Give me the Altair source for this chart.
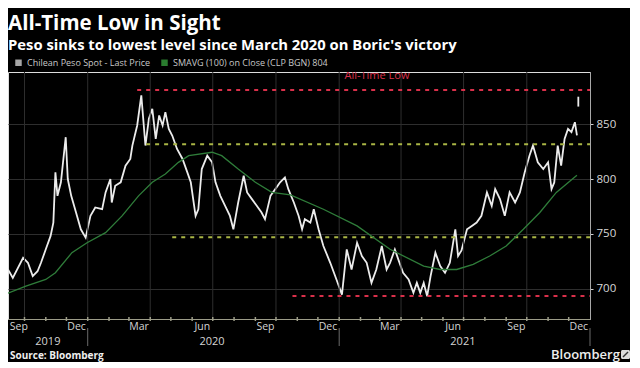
import altair as alt
import pandas as pd

# ---------------- data ----------------
price_dates = [
    "2019-09-07", "2019-09-14", "2019-09-29", "2019-10-06", "2019-10-13", "2019-10-20", "2019-10-25",
    "2019-11-01", "2019-11-08", "2019-11-12", "2019-11-15", "2019-11-18", "2019-11-23", "2019-11-30",
    "2019-12-03", "2019-12-08", "2019-12-15", "2019-12-22", "2019-12-29", "2020-01-05", "2020-01-12",
    "2020-01-22", "2020-01-27", "2020-02-03", "2020-02-05", "2020-02-10", "2020-02-18", "2020-02-25",
    "2020-03-03", "2020-03-06", "2020-03-13", "2020-03-19", "2020-03-25", "2020-03-30", "2020-04-04",
    "2020-04-09", "2020-04-14", "2020-04-19", "2020-04-23", "2020-04-28", "2020-05-03", "2020-05-10",
    "2020-05-18", "2020-05-25", "2020-05-30", "2020-06-06", "2020-06-10", "2020-06-15", "2020-06-23",
    "2020-06-30", "2020-07-05", "2020-07-12", "2020-07-19", "2020-07-26", "2020-07-31", "2020-08-07",
    "2020-08-15", "2020-08-20", "2020-08-27", "2020-09-03", "2020-09-10", "2020-09-15", "2020-09-23",
    "2020-09-30", "2020-10-07", "2020-10-14", "2020-10-19", "2020-10-27", "2020-11-03", "2020-11-08",
    "2020-11-12", "2020-11-20", "2020-11-25", "2020-12-02", "2020-12-09", "2020-12-19", "2020-12-28",
    "2021-01-05", "2021-01-12", "2021-01-19", "2021-01-27", "2021-02-03", "2021-02-10", "2021-02-17",
    "2021-02-24", "2021-03-04", "2021-03-11", "2021-03-16", "2021-03-23", "2021-03-28", "2021-04-04",
    "2021-04-12", "2021-04-19", "2021-04-24", "2021-04-29", "2021-05-04", "2021-05-09", "2021-05-14",
    "2021-05-21", "2021-05-28", "2021-06-04", "2021-06-11", "2021-06-19", "2021-06-23", "2021-06-28",
    "2021-07-06", "2021-07-13", "2021-07-20", "2021-07-27", "2021-08-04", "2021-08-11", "2021-08-16",
    "2021-08-23", "2021-08-30", "2021-09-06", "2021-09-14", "2021-09-21", "2021-09-28", "2021-10-05",
    "2021-10-10", "2021-10-17", "2021-10-25", "2021-11-01", "2021-11-06", "2021-11-10", "2021-11-15",
    "2021-11-20", "2021-11-25", "2021-11-30", "2021-12-05", "2021-12-10", "2021-12-13",
]
price_values = [
    717.6, 710.0, 728.3, 723.7, 711.6, 716.0, 723.7,
    736.0, 748.2, 760.3, 806.1, 784.7, 797.0, 838.1,
    800.0, 784.7, 769.5, 754.2, 746.6, 766.4, 774.1,
    772.5, 787.8, 800.0, 778.6, 793.9, 797.0, 812.2,
    818.3, 830.5, 848.8, 876.2, 830.5, 854.9, 864.0,
    836.6, 857.9, 848.8, 861.0, 845.7, 839.6, 827.4,
    818.3, 806.1, 797.0, 766.4, 772.5, 809.1, 821.3,
    815.2, 797.0, 784.7, 775.6, 766.4, 754.2, 778.6,
    803.0, 787.8, 781.7, 775.6, 769.5, 763.4, 784.7,
    790.8, 797.0, 801.5, 790.8, 778.6, 766.4, 754.2,
    763.4, 760.3, 772.5, 754.2, 739.0, 723.7, 708.5,
    694.7, 735.9, 717.6, 742.0, 729.9, 723.7, 705.4,
    717.6, 739.0, 717.6, 723.7, 735.9, 726.8, 714.6,
    708.5, 696.3, 705.4, 696.3, 705.4, 693.3, 711.6,
    732.9, 720.7, 714.6, 723.7, 754.2, 729.9, 735.0,
    754.2, 757.3, 760.3, 766.5, 787.8, 775.6, 790.8,
    781.7, 766.5, 787.8, 778.6, 787.8, 806.1, 821.4,
    830.5, 815.2, 809.1, 815.2, 790.8, 796.9, 830.5,
    812.2, 836.6, 845.7, 842.7, 851.8, 839.7,
]

sma_dates = [
    "2019-09-07", "2019-10-03", "2019-11-01", "2019-11-15", "2019-12-09", "2019-12-31", "2020-01-27",
    "2020-02-20", "2020-03-15", "2020-04-04", "2020-04-23", "2020-05-12", "2020-05-27", "2020-06-30",
    "2020-07-14", "2020-08-07", "2020-09-01", "2020-09-25", "2020-10-22", "2020-12-09", "2021-01-27",
    "2021-03-16", "2021-05-04", "2021-05-28", "2021-06-21", "2021-07-15", "2021-08-08", "2021-09-01",
    "2021-09-26", "2021-10-20", "2021-11-13", "2021-12-13",
]
sma_values = [
    696.0, 702.4, 708.5, 714.6, 732.9, 742.0, 751.2,
    766.4, 784.7, 797.0, 804.6, 815.2, 821.3, 824.4,
    821.3, 809.1, 797.0, 787.8, 785.5, 772.5, 757.3,
    736.0, 720.7, 717.6, 717.6, 722.2, 729.9, 739.0,
    754.2, 769.5, 787.8, 803.5,
]

last_date = ["2021-12-15"]
last_low = [866.0]
last_high = [875.0]

level_values = [881.0, 831.7, 747.0, 693.5]
level_starts = ["2020-03-13", "2020-03-26", "2020-05-03", "2020-10-25"]
level_kind = ["high", "band", "band", "low"]
level_end = "2022-01-01"

series_names = ["Chilean Peso Spot - Last Price", "SMAVG (100)  on Close (CLP BGN) 804"]

note_text = ["All-Time Low"]
note_date = ["2021-02-25"]
note_value = [894.3]

grid_dates = ["2019-10-01", "2020-01-01", "2020-04-01", "2020-07-01", "2020-10-01",
              "2021-01-01", "2021-04-01", "2021-07-01", "2021-10-01"]
year_sep_dates = ["2020-01-01", "2021-01-01", "2022-01-01"]
year_label_dates = ["2019-11-04", "2020-06-30", "2021-06-30"]
year_labels = ["2019", "2020", "2021"]
month_label_dates = ["2019-09-22", "2019-12-15", "2020-03-15", "2020-06-15", "2020-09-15",
                     "2020-12-15", "2021-03-15", "2021-06-15", "2021-09-15", "2021-12-15"]
month_tick_dates = [d.strftime("%Y-%m-%d") for d in pd.date_range("2019-10-01", "2021-12-01", freq="MS")]
y_ticks = [700, 750, 800, 850]

# ---------------- styling ----------------
BG = "#000000"
WHITE = "#ececec"
GREEN_LINE = "#2f7d3a"
GREEN_KEY = "#3cb043"
RED = "#d9304a"
OLIVE = "#a9b545"
GRID = "#2e2e2e"
AXIS = "#9c9c88"
FONT = "Open Sans"
W, H = 582, 247


def dt(s):
    y, m, d = (int(v) for v in s.split("-"))
    return alt.DateTime(year=y, month=m, date=d, utc=True)


xscale = alt.Scale(domain=[dt("2019-09-07"), dt("2022-01-01")], nice=False)
yscale = alt.Scale(domain=[672.5, 897.5], nice=False, zero=False)


def X(field, **kw):
    return alt.X(field, type="temporal", scale=xscale, title=None, **kw)


def Y(field, **kw):
    return alt.Y(field, type="quantitative", scale=yscale, title=None, **kw)


price_df = pd.DataFrame({"date": price_dates, "value": price_values})
sma_df = pd.DataFrame({"date": sma_dates, "value": sma_values})
last_df = pd.DataFrame({"date": last_date, "low": last_low, "high": last_high})
level_df = pd.DataFrame({"start": level_starts, "end": [level_end] * len(level_values),
                         "value": level_values, "kind": level_kind})
note_df = pd.DataFrame({"date": note_date, "value": note_value, "text": note_text})
grid_df = pd.DataFrame({"date": grid_dates})
tick_df = pd.DataFrame({"date": month_tick_dates})
sep_df = pd.DataFrame({"date": year_sep_dates})
year_df = pd.DataFrame({"date": year_label_dates, "label": year_labels})
key_df = pd.DataFrame({"series": series_names})

x_axis = alt.Axis(values=[dt(d) for d in month_label_dates], format="%b", grid=False,
                  domainColor=AXIS, ticks=False, labelColor="#d4d4d4",
                  labelFontSize=10.5, labelFont=FONT, labelPadding=2, labelOverlap=False,
                  labelFlush=False, title=None)
y_axis = alt.Axis(orient="right", values=y_ticks, grid=True, gridColor=GRID, domainColor="#a8a8a8",
                  tickColor="#d0d0d0", tickSize=3, labelColor="#d8d8d8", labelFontSize=11.5,
                  labelFont=FONT, labelPadding=3, title="pesos per U.S. dollar", titleAngle=90,
                  titleFontSize=12, titleFont=FONT, titleFontWeight="normal", titleColor="#d8d8d8",
                  titlePadding=7)

price_line = alt.Chart(price_df).mark_line(color=WHITE, strokeWidth=1.8, clip=True).encode(
    x=X("date", axis=x_axis),
    y=Y("value", axis=y_axis),
)

vgrid = alt.Chart(grid_df).mark_rule(color=GRID, strokeWidth=1).encode(x=X("date"))

month_ticks = alt.Chart(tick_df).mark_rule(color=AXIS, strokeWidth=1.5).encode(
    x=X("date"), y=alt.value(H - 2), y2=alt.value(H + 2))

levels = alt.Chart(level_df).mark_rule(strokeDash=[4, 5], strokeWidth=2).encode(
    x=X("start"),
    x2="end:T",
    y=Y("value"),
    color=alt.Color("kind:N", scale=alt.Scale(domain=["high", "band", "low"], range=[RED, OLIVE, RED]),
                    legend=None),
)

sma_line = alt.Chart(sma_df).mark_line(color=GREEN_LINE, strokeWidth=1.3, clip=True).encode(
    x=X("date"), y=Y("value"))

last_tick = alt.Chart(last_df).mark_rule(color=WHITE, strokeWidth=1.8).encode(
    x=X("date"), y=Y("low"), y2="high:Q")

key = alt.Chart(key_df).mark_point(shape="square", filled=True, clip=True).encode(
    x=alt.value(-60), y=alt.value(-60),
    fill=alt.Fill("series:N", scale=alt.Scale(domain=series_names, range=[WHITE, GREEN_KEY]),
                  legend=alt.Legend(orient="none", legendX=6, legendY=-14, direction="horizontal",
                                    title=None, symbolType="square", symbolSize=42, symbolStrokeWidth=0,
                                    labelFontSize=9, labelFont=FONT, labelColor="#c8c8c8",
                                    columnPadding=9, labelLimit=400)),
)

note = alt.Chart(note_df).mark_text(color=RED, fontSize=11, font=FONT, clip=True).encode(
    x=X("date"), y=Y("value"), text="text:N")

year_text = alt.Chart(year_df).mark_text(color="#d4d4d4", fontSize=11, font=FONT).encode(
    x=X("date"), y=alt.value(H + 23), text="label:N")

year_sep = alt.Chart(sep_df).mark_rule(color="#6a6a6a", strokeWidth=1).encode(
    x=X("date"), y=alt.value(H + 9), y2=alt.value(H + 27))

source = alt.Chart(pd.DataFrame({"t": ["Source: Bloomberg"]})).mark_text(
    align="left", color="#eeeeee", fontSize=10, fontWeight="bold", font=FONT).encode(
    x=alt.value(2), y=alt.value(H + 37), text="t:N")

brand = alt.Chart(pd.DataFrame({"t": ["Bloomberg"]})).mark_text(
    align="left", color="#eeeeee", fontSize=13, fontWeight=600, font=FONT).encode(
    x=alt.value(543), y=alt.value(H + 36), text="t:N")

logo = alt.Chart(pd.DataFrame({"t": [""]})).mark_rect(color="#dcdcdc", cornerRadius=1.5).encode(
    x=alt.value(613), x2=alt.value(622), y=alt.value(H + 31), y2=alt.value(H + 40))

logo_mark = alt.Chart(pd.DataFrame({"t": [""]})).mark_rule(color="#333333", strokeWidth=1.5).encode(
    x=alt.value(615), x2=alt.value(620), y=alt.value(H + 38), y2=alt.value(H + 33))

chart = alt.layer(
    price_line, vgrid, month_ticks, levels, sma_line, last_tick, key, note, year_text, year_sep,
    source, brand, logo, logo_mark
).properties(
    width=W, height=H, background=BG, padding={"left": 0, "top": 5, "right": 0, "bottom": 0},
    title=alt.TitleParams(
        text="All-Time Low in Sight",
        subtitle="Peso sinks to lowest level since March 2020 on Boric's victory",
        anchor="start", frame="group", font=FONT, fontSize=20.5, fontWeight="bold", color="#ffffff",
        subtitleFont=FONT, subtitleFontSize=14.8, subtitleFontWeight="bold", subtitleColor="#ffffff",
        subtitlePadding=4, offset=5,
    ),
).configure_view(stroke=None).configure(font=FONT)

chart.save("out.html", embed_options={"renderer": "svg", "actions": False})
